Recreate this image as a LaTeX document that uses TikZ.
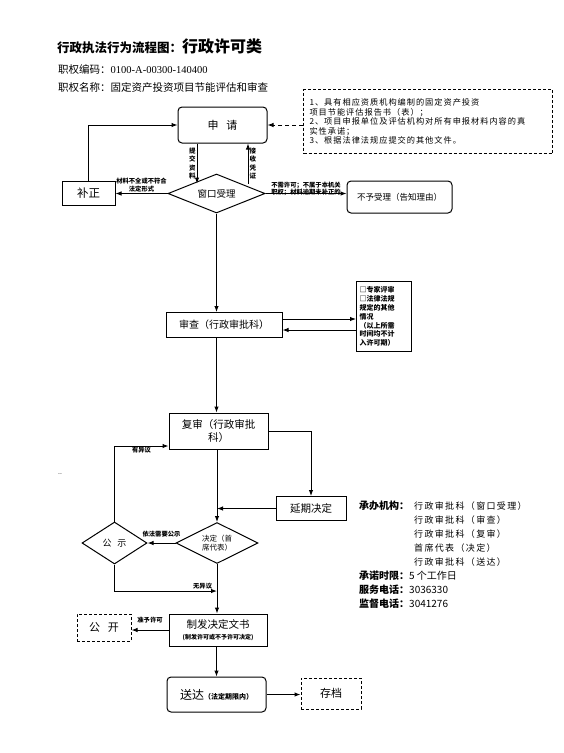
\documentclass[tikz,border=0pt]{standalone}
\usepackage{fontspec}
\setmainfont{Noto Sans CJK SC}
\newfontfamily\latserif{Liberation Serif}
\usetikzlibrary{arrows.meta,shapes.geometric,positioning,calc}
\tikzset{
  box/.style={draw=black, line width=1pt, inner sep=0pt, align=center},
  roundbox/.style={box, rounded corners=4pt},
  dashbox/.style={box, dash pattern=on 3pt off 2pt},
  decision/.style={box, diamond, aspect=2},
  flow/.style={-{Latex[length=6pt,width=4.5pt]}, line width=1pt},
  dashflow/.style={flow, dash pattern=on 4pt off 3pt},
  note/.style={font=\fontsize{6.3}{7.5}\selectfont\bfseries, align=center, inner sep=1pt},
  vnote/.style={note, font=\fontsize{6.5}{8.5}\selectfont\bfseries},
  info/.style={anchor=base west, inner sep=0pt, font=\fontsize{10}{12}\selectfont}
}

\begin{document}
\begin{tikzpicture}[x=1pt, y=-1pt]
  \path[use as bounding box, fill=white] (0,0) rectangle (563,753);

  \node[anchor=base west, inner sep=0pt] (title) at (57,52)
    {{\fontsize{12.5}{14}\selectfont\bfseries 行政执法行为流程图：}{\fontsize{16}{18}\selectfont\bfseries 行政许可类}};
  \node[info, font=\fontsize{10.5}{12}\selectfont] (code) at (58,73) {职权编码：{\latserif 0100-A-00300-140400}};
  \node[info, font=\fontsize{10.5}{12}\selectfont] (name) at (58,91) {职权名称：固定资产投资项目节能评估和审查};

  \node[dashbox, anchor=north west, minimum width=249pt, minimum height=64pt, text width=237pt,
        inner xsep=6pt, align=left, font=\fontsize{8.2}{9.5}\selectfont\addfontfeature{LetterSpace=12}] (reqs) at (303,89)
    {1、具有相应资质机构编制的固定资产投资\\项目节能评估报告书（表）；\\2、项目申报单位及评估机构对所有申报材料内容的真\\实性承诺；\\3、根据法律法规应提交的其他文件。};
  \node[roundbox, minimum width=89pt, minimum height=36pt, font=\fontsize{11}{13}\selectfont] (shenqing) at (222.5,125) {申\hspace{8pt}请};
  \node[decision, minimum width=97pt, minimum height=39pt, font=\fontsize{9.5}{11}\selectfont] (chuangkou) at (216.5,193.5) {窗口受理};
  \node[box, minimum width=53pt, minimum height=24pt, font=\fontsize{11.5}{13}\selectfont] (buzheng) at (88.5,193) {补正};
  \node[roundbox, minimum width=105pt, minimum height=32pt, font=\fontsize{8.5}{10}\selectfont] (buyu) at (399.5,197) {不予受理（告知理由）};
  \node[box, minimum width=116pt, minimum height=25pt, font=\fontsize{10}{12}\selectfont] (shencha) at (224,325) {审查（行政审批科）};
  \node[box, anchor=north west, minimum width=55pt, minimum height=70pt, text width=49pt, inner xsep=3pt,
        align=left, font=\fontsize{7}{8.9}\selectfont\bfseries] (zhuanjia) at (356,281)
    {□专家评审\\□法律法规\\规定的其他\\情况\\（以上所需\\时间均不计\\入许可期）};
  \node[box, minimum width=99pt, minimum height=36pt, font=\fontsize{10.5}{13}\selectfont] (fushen) at (218.5,431) {复审（行政审批\\科）};
  \node[box, minimum width=70pt, minimum height=24pt, font=\fontsize{10.5}{12}\selectfont] (yanqi) at (311,508.5) {延期决定};
  \node[decision, minimum width=82pt, minimum height=41pt, font=\fontsize{7.5}{9.5}\selectfont] (jueding) at (217,543) {决定（首\\席代表）};
  \node[decision, minimum width=65pt, minimum height=42pt, font=\fontsize{9}{11}\selectfont] (gongshi) at (114.5,543) {公\hspace{6pt}示};
  \node[box, minimum width=98pt, minimum height=32pt] (zhifa) at (218,630)
    {{\fontsize{10.5}{13}\selectfont 制发决定文书}\\[-1pt]{\fontsize{6}{8}\selectfont\bfseries (制发许可或不予许可决定)}};
  \node[dashbox, minimum width=54pt, minimum height=27pt, font=\fontsize{11}{13}\selectfont] (gongkai) at (104,627.5) {公\hspace{8pt}开};
  \node[roundbox, minimum width=99pt, minimum height=35pt] (songda) at (216.5,694.5)
    {{\fontsize{12}{14}\selectfont 送达}{\fontsize{7}{9}\selectfont\bfseries（法定期限内）}};
  \node[dashbox, minimum width=60pt, minimum height=31pt, font=\fontsize{11}{13}\selectfont] (cundang) at (331,693.5) {存档};
  \node[inner sep=0pt, font=\fontsize{7}{8}\selectfont] (dots) at (60,474) {..};

  \draw[dashflow] (reqs.west |- shenqing.east) -- (shenqing.east);
  \draw[flow] ([xshift=-25.5pt]shenqing.south) -- node[vnote, left] {提\\交\\资\\料}
    ([xshift=-25.5pt]shenqing.south |- chuangkou.north west);
  \draw[flow] ([xshift=25.5pt]shenqing.south |- chuangkou.north east) -- node[vnote, right] {接\\收\\凭\\证}
    ([xshift=25.5pt]shenqing.south);
  \draw[flow] (chuangkou.west) -- node[note, above] {材料不全或不符合\\法定形式} (chuangkou.west -| buzheng.east);
  \draw[flow] (buzheng.north) |- (shenqing.west);
  \draw[flow] (chuangkou.east) -- node[note, above, yshift=-4pt] {不需许可；不属于本机关\\职权；材料逾期未补正的}
    (chuangkou.east -| buyu.west);
  \draw[flow] (chuangkou.south) -- (chuangkou.south |- shencha.north);
  \draw[flow] ([yshift=6pt]shencha.east) -- ([yshift=6pt]shencha.east -| zhuanjia.west);
  \draw[flow] ([yshift=-5pt]zhuanjia.west |- shencha.east) -- ([yshift=-5pt]shencha.east);
  \draw[flow] (shencha.south -| chuangkou.south) -- (fushen.north -| chuangkou.south);
  \draw[flow] (fushen.east) -| (yanqi.north);
  \draw[flow] (fushen.south -| jueding.north) -- (jueding.north);
  \draw[flow] (yanqi.west) -- (yanqi.west -| jueding.north);
  \draw[flow] (jueding.west) -- node[note, above, yshift=4pt] {依法需要公示} (gongshi.east);
  \draw[flow] (gongshi.north) |- ([yshift=-15pt]fushen.west) node[note, pos=0.75, below] {有异议};
  \coordinate (wuyi) at (217,591);
  \draw[flow] (gongshi.south) |- (wuyi) node[note, pos=0.93, above] {无异议};
  \draw[flow] (jueding.south) -- (jueding.south |- zhifa.north);
  \draw[flow] (zhifa.west) -- node[note, above, yshift=5pt] {准予许可} (zhifa.west -| gongkai.east);
  \draw[flow] (zhifa.south -| songda.north) -- (songda.north);
  \draw[flow] (songda.east) -- (songda.east -| cundang.west);

  \node[info, font=\fontsize{10}{12}\selectfont\bfseries] (org) at (359,509) {承办机构：};
  \foreach \t [count=\i] in {行政审批科（窗口受理）,行政审批科（审查）,行政审批科（复审）,首席代表（决定）,行政审批科（送达）}
    \node[info, font=\fontsize{9}{12}\selectfont\addfontfeature{LetterSpace=15}] (org\i) at (414,495+14*\i) {\t};
  \node[info] (shixian) at (359,579) {{\bfseries 承诺时限：}5 个工作日};
  \node[info] (fuwu) at (359,593) {{\bfseries 服务电话：}3036330};
  \node[info] (jiandu) at (359,607) {{\bfseries 监督电话：}3041276};
\end{tikzpicture}
\end{document}
